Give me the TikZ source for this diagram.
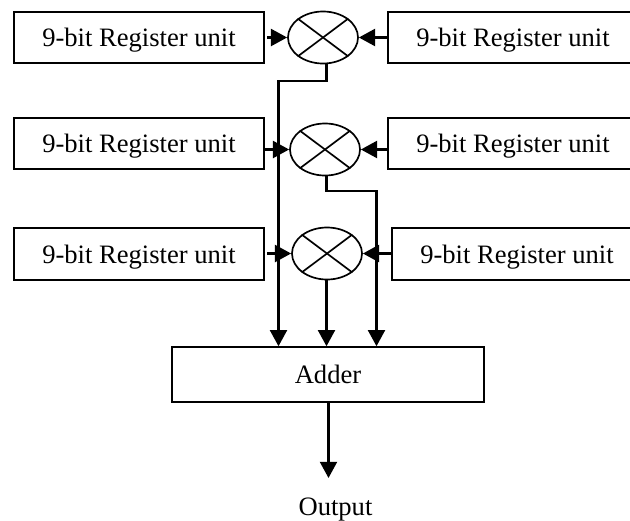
\documentclass[tikz,border=0pt]{standalone}
\usepackage{fontspec}
\setmainfont{Liberation Serif}
\usetikzlibrary{shapes.geometric,arrows.meta}

\tikzset{
    regbox/.style={draw,line width=1.2pt,minimum width=6.25cm,minimum height=1.29cm,inner sep=0pt,text height=13pt,text depth=0pt,font=\fontsize{18.9}{22}\selectfont},
    mult/.style={draw,ellipse,line width=1.2pt,minimum width=1.75cm,minimum height=1.3cm,inner sep=0pt},
    conn/.style={line width=1.8pt,-{Triangle[length=11.5pt,width=12pt]}}
}

\begin{document}
\begin{tikzpicture}[x=0.025cm,y=-0.025cm]
    \useasboundingbox (0,0) rectangle (630,520);

    \node[regbox] (regA) at (139,37.5) {9-bit Register unit};
    \node[regbox] (regB) at (139,143.5) {9-bit Register unit};
    \node[regbox] (regC) at (139,254) {9-bit Register unit};
    \node[regbox] (regD) at (513,37.5) {9-bit Register unit};
    \node[regbox] (regE) at (513,143.5) {9-bit Register unit};
    \node[regbox] (regF) at (517,254) {9-bit Register unit};

    \node[mult] (multA) at (323,37.5) {};
    \node[mult] (multB) at (325,149.5) {};
    \node[mult] (multC) at (327,253.5) {};
    \foreach \m in {multA,multB,multC} {
        \draw[line width=1.2pt] (\m.north west) -- (\m.south east);
        \draw[line width=1.2pt] (\m.north east) -- (\m.south west);
    }

    \node[regbox,minimum width=7.8cm,minimum height=1.37cm] (adder) at (328,374.5) {Adder};
    \node[font=\fontsize{18.9}{22}\selectfont,text height=14pt,text depth=0pt] (output) at (335.5,506) {Output};

    \coordinate (tapA) at (326.5,63);
    \coordinate (tapB) at (326.5,176);
    \coordinate (tapC) at (326.5,280);
    \coordinate (bendA) at (278.5,81);
    \coordinate (bendB) at (376.5,191);

    \draw[conn] (267,37.5) -- (multA.west);
    \draw[conn] (regB.east |- multB.west) -- (multB.west);
    \draw[conn] (267,253.5) -- (multC.west);
    \draw[conn] (regD.west) -- (multA.east);
    \draw[conn] (regE.west |- multB.east) -- (multB.east);
    \draw[conn] (regF.west |- multC.east) -- (multC.east);

    \draw[conn] (tapA) |- (bendA) -- (bendA |- adder.north);
    \draw[conn] (tapB) |- (bendB) -- (bendB |- adder.north);
    \draw[conn] (tapC) -- (tapC |- adder.north);
    \draw[conn] (328.5,402) -- (328.5,478);
\end{tikzpicture}
\end{document}
